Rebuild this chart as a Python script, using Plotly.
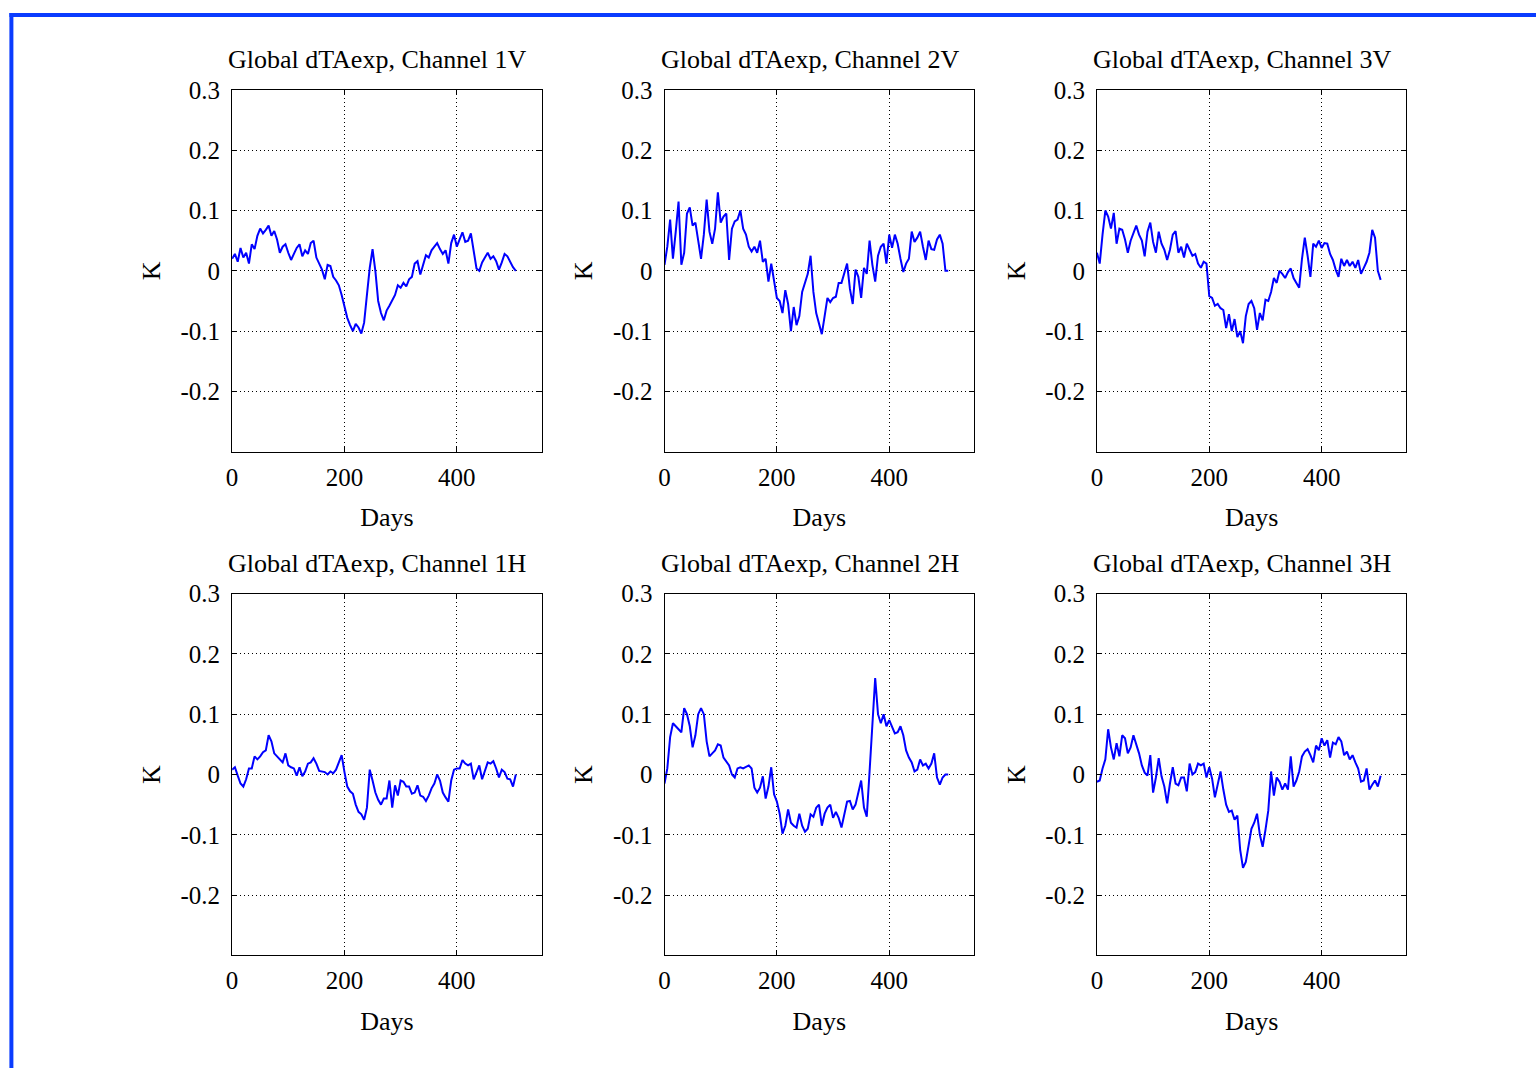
import plotly.graph_objects as go

# ---------------- data ----------------
days = list(range(0, 506, 5))

ch1v = [0.020, 0.028, 0.015, 0.038, 0.022, 0.030, 0.012, 0.044, 0.036, 0.058,
        0.070, 0.062, 0.068, 0.075, 0.058, 0.066, 0.052, 0.030, 0.040, 0.044,
        0.030, 0.018, 0.028, 0.038, 0.044, 0.024, 0.034, 0.028, 0.046, 0.050,
        0.022, 0.012, 0.002, -0.014, 0.010, 0.008, -0.010, -0.016, -0.024, -0.040,
        -0.058, -0.078, -0.090, -0.100, -0.088, -0.094, -0.104, -0.086, -0.040, 0.005,
        0.036, 0.000, -0.050, -0.070, -0.082, -0.066, -0.058, -0.050, -0.040, -0.024,
        -0.028, -0.020, -0.026, -0.014, -0.010, 0.012, 0.016, -0.006, 0.010, 0.026,
        0.022, 0.034, 0.040, 0.046, 0.036, 0.028, 0.034, 0.012, 0.046, 0.060,
        0.040, 0.052, 0.064, 0.048, 0.050, 0.062, 0.030, 0.004, 0.000, 0.014,
        0.022, 0.030, 0.020, 0.024, 0.016, 0.002, 0.014, 0.028, 0.024, 0.014,
        0.006, 0.000]

ch2v = [0.010, 0.040, 0.085, 0.020, 0.065, 0.115, 0.010, 0.030, 0.095, 0.105,
        0.075, 0.080, 0.050, 0.020, 0.060, 0.118, 0.065, 0.045, 0.070, 0.130,
        0.080, 0.090, 0.095, 0.018, 0.070, 0.082, 0.085, 0.100, 0.070, 0.060,
        0.040, 0.032, 0.040, 0.030, 0.050, 0.015, 0.020, -0.018, 0.012, -0.015,
        -0.045, -0.050, -0.070, -0.032, -0.055, -0.100, -0.060, -0.090, -0.075, -0.035,
        -0.020, -0.005, 0.025, -0.035, -0.070, -0.090, -0.105, -0.075, -0.045, -0.052,
        -0.045, -0.043, -0.020, -0.020, -0.003, 0.012, -0.030, -0.055, 0.002, -0.010,
        -0.045, 0.005, -0.005, 0.050, 0.010, -0.018, 0.025, 0.040, 0.045, 0.012,
        0.060, 0.038, 0.060, 0.045, 0.020, -0.002, 0.012, 0.020, 0.065, 0.048,
        0.055, 0.065, 0.040, 0.018, 0.050, 0.036, 0.035, 0.052, 0.060, 0.045,
        0.000, 0.000]

ch3v = [0.030, 0.012, 0.060, 0.100, 0.090, 0.070, 0.096, 0.045, 0.070, 0.068,
        0.052, 0.030, 0.050, 0.062, 0.075, 0.060, 0.050, 0.024, 0.065, 0.080,
        0.048, 0.030, 0.065, 0.045, 0.035, 0.018, 0.035, 0.060, 0.066, 0.030,
        0.040, 0.022, 0.045, 0.035, 0.025, 0.028, 0.012, 0.005, 0.015, 0.012,
        -0.042, -0.045, -0.058, -0.055, -0.062, -0.065, -0.095, -0.072, -0.100, -0.080,
        -0.110, -0.100, -0.120, -0.075, -0.055, -0.050, -0.062, -0.098, -0.070, -0.082,
        -0.048, -0.050, -0.035, -0.012, -0.020, 0.000, -0.005, -0.012, -0.002, 0.004,
        -0.012, -0.020, -0.028, 0.020, 0.055, 0.025, -0.010, 0.045, 0.040, 0.050,
        0.038, 0.046, 0.045, 0.028, 0.018, 0.002, -0.010, 0.020, 0.008, 0.018,
        0.008, 0.015, 0.005, 0.018, -0.005, 0.005, 0.015, 0.030, 0.068, 0.055,
        0.000, -0.015]

ch1h = [0.008, 0.012, -0.002, -0.015, -0.020, -0.008, 0.010, 0.010, 0.030, 0.025,
        0.030, 0.037, 0.040, 0.065, 0.055, 0.035, 0.030, 0.025, 0.020, 0.035,
        0.015, 0.012, 0.010, -0.002, 0.012, -0.003, 0.005, 0.018, 0.020, 0.027,
        0.018, 0.006, 0.005, 0.004, 0.000, 0.005, 0.002, 0.008, 0.020, 0.032,
        0.004, -0.020, -0.028, -0.032, -0.050, -0.062, -0.066, -0.075, -0.055, 0.008,
        -0.010, -0.030, -0.042, -0.050, -0.040, -0.040, -0.010, -0.055, -0.018, -0.035,
        -0.010, -0.012, -0.020, -0.020, -0.032, -0.030, -0.018, -0.035, -0.037, -0.044,
        -0.035, -0.023, -0.015, 0.000, -0.010, -0.030, -0.038, -0.045, -0.010, 0.008,
        0.010, 0.010, 0.024, 0.018, 0.015, 0.018, -0.008, 0.005, 0.015, -0.008,
        0.008, 0.020, 0.018, 0.022, 0.010, -0.005, 0.008, 0.004, -0.007, -0.008,
        -0.020, 0.000]

ch2h = [-0.015, 0.010, 0.062, 0.085, 0.080, 0.075, 0.070, 0.110, 0.100, 0.080,
        0.045, 0.065, 0.100, 0.110, 0.100, 0.055, 0.030, 0.035, 0.040, 0.050,
        0.048, 0.028, 0.022, 0.015, 0.000, -0.005, 0.010, 0.012, 0.010, 0.012,
        0.015, 0.010, -0.022, -0.030, -0.022, -0.003, -0.040, -0.020, 0.012, -0.033,
        -0.045, -0.065, -0.098, -0.085, -0.058, -0.080, -0.085, -0.088, -0.065, -0.085,
        -0.095, -0.090, -0.066, -0.070, -0.055, -0.050, -0.085, -0.065, -0.055, -0.050,
        -0.072, -0.062, -0.072, -0.088, -0.068, -0.045, -0.044, -0.058, -0.050, -0.030,
        -0.010, -0.055, -0.070, 0.005, 0.090, 0.160, 0.100, 0.085, 0.100, 0.080,
        0.090, 0.080, 0.068, 0.070, 0.080, 0.065, 0.040, 0.028, 0.020, 0.005,
        0.008, 0.025, 0.015, 0.018, 0.010, 0.018, 0.035, -0.005, -0.017, -0.005,
        0.000, 0.000]

ch3h = [-0.012, -0.010, 0.010, 0.025, 0.075, 0.045, 0.025, 0.052, 0.030, 0.065,
        0.060, 0.035, 0.045, 0.065, 0.050, 0.035, 0.015, 0.003, -0.002, 0.032,
        -0.030, -0.005, 0.027, -0.003, -0.020, -0.048, -0.015, 0.012, -0.015, -0.018,
        -0.005, -0.005, -0.028, 0.018, 0.000, 0.004, 0.018, 0.015, 0.018, -0.005,
        0.012, -0.007, -0.038, -0.015, 0.005, -0.025, -0.050, -0.062, -0.060, -0.075,
        -0.068, -0.125, -0.155, -0.145, -0.115, -0.090, -0.080, -0.065, -0.100, -0.120,
        -0.092, -0.060, 0.005, -0.035, -0.005, -0.012, -0.025, -0.015, -0.025, 0.030,
        -0.020, -0.010, 0.005, 0.030, 0.038, 0.042, 0.032, 0.020, 0.048, 0.040,
        0.060, 0.048, 0.057, 0.028, 0.053, 0.050, 0.062, 0.055, 0.032, 0.038,
        0.025, 0.032, 0.020, 0.010, -0.012, -0.010, 0.010, -0.025, -0.017, -0.010,
        -0.020, -0.002]

titles = ["Global dTAexp, Channel 1V", "Global dTAexp, Channel 2V", "Global dTAexp, Channel 3V",
          "Global dTAexp, Channel 1H", "Global dTAexp, Channel 2H", "Global dTAexp, Channel 3H"]
series = [ch1v, ch2v, ch3v, ch1h, ch2h, ch3h]

x_tickvals = [0, 200, 400]
x_ticktext = ["0", "200", "400"]
y_tickvals = [-0.2, -0.1, 0, 0.1, 0.2, 0.3]
y_ticktext = ["-0.2", "-0.1", "0", "0.1", "0.2", "0.3"]
x_label = "Days"
y_label = "K"

# ---------------- layout geometry ----------------
W, H = 1536, 1068
col_left = [231, 664, 1097]
row_top = [89, 593]
PW, PH = 310, 362
FONT = "Liberation Serif, Times New Roman, serif"
FS = 25
FT = 26


def fx(px):
    # target screen x -> figure x (calibrated)
    return (px - 4.6) / 0.99745


def fy(py):
    # target screen y -> figure y (calibrated)
    return (py - 12.0) / 0.9885


fig = go.Figure()
layout = dict(
    width=W, height=H, autosize=False,
    margin=dict(l=0, r=0, t=0, b=0),
    paper_bgcolor="white", plot_bgcolor="white",
    showlegend=False,
    font=dict(family=FONT, size=FS, color="black"),
)

annotations = []
for i, vals in enumerate(series):
    r, c = divmod(i, 3)
    L, T = col_left[c], row_top[r]
    xa = "xaxis" if i == 0 else f"xaxis{i+1}"
    ya = "yaxis" if i == 0 else f"yaxis{i+1}"
    xr = "x" if i == 0 else f"x{i+1}"
    yr = "y" if i == 0 else f"y{i+1}"
    fig.add_trace(go.Scatter(x=days[:len(vals)], y=vals, mode="lines",
                             line=dict(color="#0000ff", width=2.0),
                             xaxis=xr, yaxis=yr, hoverinfo="skip"))
    common = dict(showline=True, linecolor="black", linewidth=1, mirror="ticks",
                  ticks="inside", ticklen=5, tickcolor="black", tickwidth=1,
                  showgrid=True, gridcolor="black", gridwidth=1, griddash="1px,3px",
                  zeroline=False, fixedrange=True,
                  tickfont=dict(family=FONT, size=FS, color="black"))
    layout[xa] = dict(common, domain=[fx(L) / W, fx(L + PW) / W], range=[0, 551],
                      tickmode="array", tickvals=x_tickvals, ticktext=x_ticktext,
                      anchor=yr, ticklabelstandoff=3,
                      title=dict(text=x_label, standoff=18,
                                 font=dict(family=FONT, size=FT, color="black")))
    layout[ya] = dict(common, domain=[1 - fy(T + PH) / H, 1 - fy(T) / H], range=[-0.3, 0.3],
                      tickmode="array", tickvals=y_tickvals, ticktext=y_ticktext,
                      anchor=xr, ticklabelstandoff=6,
                      title=dict(text=y_label, standoff=12,
                                 font=dict(family=FONT, size=FT, color="black")))
    annotations.append(dict(text=titles[i], xref="paper", yref="paper",
                            x=fx(L + 146) / W, y=1 - fy(T - 30) / H,
                            xanchor="center", yanchor="middle", showarrow=False,
                            font=dict(family=FONT, size=FT, color="black")))

layout["annotations"] = annotations
# blue frame (top and left edges)
ft0, ft1 = max(fy(3.5), 0), max(fy(7.5), 4)
layout["shapes"] = [
    dict(type="rect", xref="paper", yref="paper", x0=fx(8) / W, x1=1.0,
         y0=1 - ft1 / H, y1=1 - ft0 / H, fillcolor="#0a3cff", line=dict(width=0), layer="above"),
    dict(type="rect", xref="paper", yref="paper", x0=fx(8) / W, x1=fx(12) / W,
         y0=0, y1=1 - ft0 / H, fillcolor="#0a3cff", line=dict(width=0), layer="above"),
]
fig.update_layout(**layout)

fig.write_html("out.html", config={"displayModeBar": False},
               post_script="document.body.style.margin='0';document.body.style.overflow='hidden';")
